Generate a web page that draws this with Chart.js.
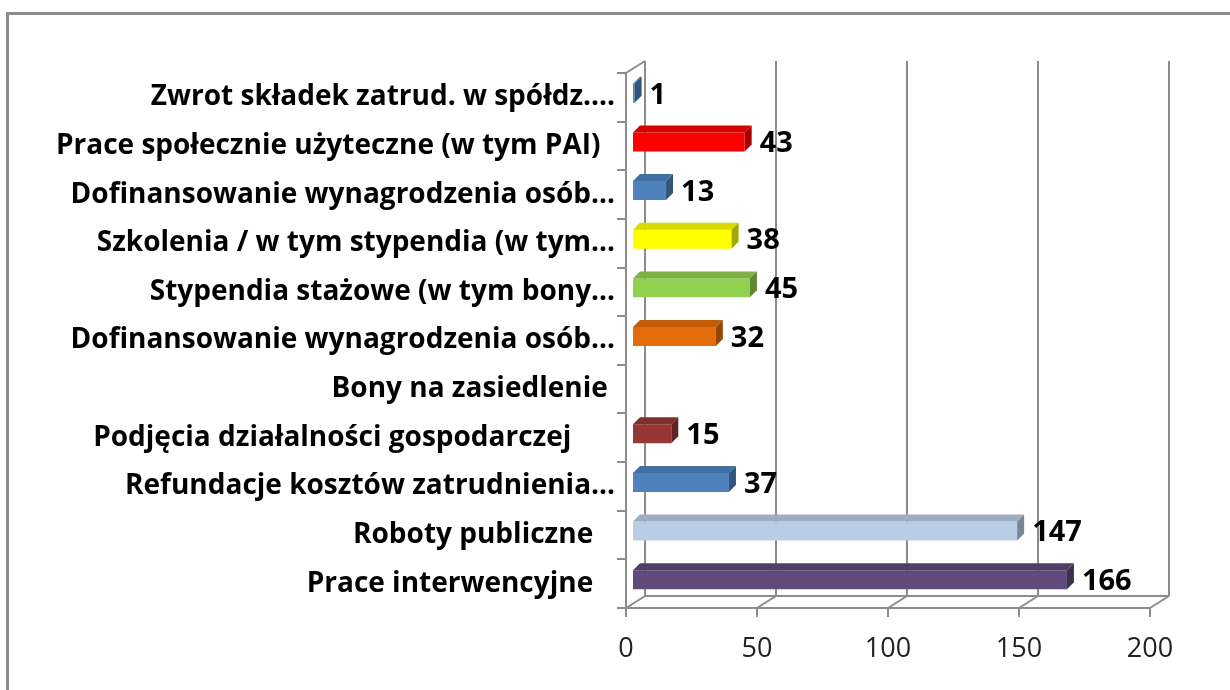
<!DOCTYPE html>
<html>
<head>
<meta charset="utf-8">
<script src="https://cdn.jsdelivr.net/npm/chart.js@4.4.1/dist/chart.umd.min.js"></script>
<style>
  html, body { margin: 0; padding: 0; background: #fff; overflow: hidden; }
</style>
</head>
<body>
<canvas id="chart" width="1230" height="690"></canvas>
<script>
const categories = [
  'Zwrot składek zatrud. w spółdz....',
  'Prace społecznie użyteczne (w tym PAI)  ',
  'Dofinansowanie wynagrodzenia osób…',
  'Szkolenia / w tym stypendia (w tym…',
  'Stypendia stażowe (w tym bony…',
  'Dofinansowanie wynagrodzenia osób…',
  'Bony na zasiedlenie ',
  'Podjęcia działalności gospodarczej      ',
  'Refundacje kosztów zatrudnienia…',
  'Roboty publiczne   ',
  'Prace interwencyjne   '
];
const values = [1, 43, 13, 38, 45, 32, 0, 15, 37, 147, 166];
const barColors = ['#4F81BD', '#FF0000', '#4F81BD', '#FFFF00', '#92D050', '#E46C0A',
                   '#4F81BD', '#953735', '#4F81BD', '#B9CDE5', '#604A7B'];
const xTicks = [0, 50, 100, 150, 200];

// depth of the back wall and of the bars
const DX = 19, DY = -12;
const BAR_DX = 7, BAR_DY = -7;
const SHIFT_X = 6, SHIFT_Y = -4;
const LINE = '#8c8c8c';

function shade(hex, f) {
  const n = parseInt(hex.slice(1), 16);
  const r = Math.round(((n >> 16) & 255) * f);
  const g = Math.round(((n >> 8) & 255) * f);
  const b = Math.round((n & 255) * f);
  return `rgb(${r},${g},${b})`;
}

const threeD = {
  id: 'threeD',
  beforeDraw(chart) {
    const ctx = chart.ctx;
    const { top, bottom, left } = chart.chartArea;
    const x = chart.scales.x;
    ctx.save();
    // outer frame
    ctx.strokeStyle = LINE;
    ctx.lineWidth = 3;
    ctx.strokeRect(7.5, 13.5, 1400, 900);
    // back wall + floor
    ctx.lineWidth = 2;
    ctx.beginPath();
    xTicks.forEach(v => {
      const px = x.getPixelForValue(v);
      ctx.moveTo(px + DX, top + DY);
      ctx.lineTo(px + DX, bottom + DY);
      ctx.moveTo(px, bottom);
      ctx.lineTo(px + DX, bottom + DY);
    });
    ctx.moveTo(x.getPixelForValue(x.min) + DX, bottom + DY);
    ctx.lineTo(x.getPixelForValue(x.max) + DX, bottom + DY);
    ctx.moveTo(left, top);
    ctx.lineTo(left + DX, top + DY);
    ctx.stroke();
    ctx.restore();
  },
  beforeDatasetsDraw(chart) {
    chart.ctx.save();
    chart.ctx.translate(SHIFT_X, SHIFT_Y);
  },
  afterDatasetsDraw(chart) {
    const ctx = chart.ctx;
    const bars = chart.getDatasetMeta(0).data;
    bars.forEach((bar, i) => {
      if (!values[i]) return;
      const { x, y, base, height } = bar.getProps(['x', 'y', 'base', 'height'], true);
      const t = y - height / 2, b = y + height / 2;
      // top face
      ctx.fillStyle = shade(barColors[i], 0.85);
      ctx.beginPath();
      ctx.moveTo(base, t);
      ctx.lineTo(x, t);
      ctx.lineTo(x + BAR_DX, t + BAR_DY);
      ctx.lineTo(base + BAR_DX, t + BAR_DY);
      ctx.closePath();
      ctx.fill();
      // side face
      ctx.fillStyle = shade(barColors[i], 0.65);
      ctx.beginPath();
      ctx.moveTo(x, t);
      ctx.lineTo(x + BAR_DX, t + BAR_DY);
      ctx.lineTo(x + BAR_DX, b + BAR_DY);
      ctx.lineTo(x, b);
      ctx.closePath();
      ctx.fill();
    });
    ctx.restore();

    // value labels
    ctx.save();
    ctx.font = 'bold 29px "Open Sans"';
    ctx.fillStyle = '#000';
    ctx.textAlign = 'left';
    ctx.textBaseline = 'middle';
    bars.forEach((bar, i) => {
      if (!values[i]) return;
      const { x, y } = bar.getProps(['x', 'y'], true);
      ctx.fillText(String(values[i]), x + SHIFT_X + BAR_DX + 8, y + SHIFT_Y + 2);
    });
    ctx.restore();
  }
};

new Chart(document.getElementById('chart'), {
  type: 'bar',
  data: {
    labels: categories,
    datasets: [{
      data: values,
      backgroundColor: barColors,
      borderWidth: 0,
      barPercentage: 0.78,
      categoryPercentage: 0.5
    }]
  },
  options: {
    indexAxis: 'y',
    responsive: false,
    animation: false,
    layout: { padding: { top: 73, right: 80, left: 0, bottom: 0 } },
    plugins: {
      legend: { display: false },
      tooltip: { enabled: false }
    },
    scales: {
      x: {
        min: 0,
        max: 200,
        afterFit(s) { s.height = 82; },
        afterBuildTicks(s) { s.ticks = xTicks.map(v => ({ value: v })); },
        grid: { drawOnChartArea: false, drawTicks: true, tickLength: 9, color: LINE, lineWidth: 2 },
        border: { color: LINE, width: 2 },
        ticks: { font: { family: 'Open Sans', size: 27 }, color: '#222', padding: 16 }
      },
      y: {
        afterFit(s) { s.width = 626; },
        grid: { offset: true, drawOnChartArea: false, drawTicks: true, tickLength: 9, color: LINE, lineWidth: 2 },
        border: { color: LINE, width: 2 },
        ticks: { font: { family: 'Open Sans', size: 28, weight: 'bold' }, color: '#000', padding: 2, autoSkip: false }
      }
    }
  },
  plugins: [threeD]
});
</script>
</body>
</html>
